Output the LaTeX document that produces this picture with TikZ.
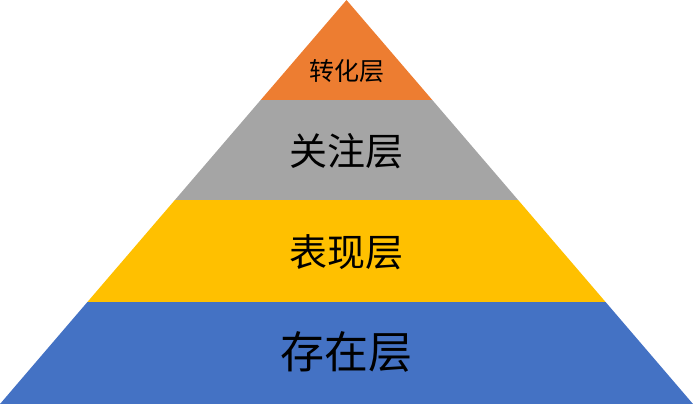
\documentclass[tikz,border=0pt]{standalone}
\usepackage{fontspec}
\newfontfamily\cjk{Noto Sans CJK SC}
\definecolor{lorange}{HTML}{ED7D31}
\definecolor{lgray}{HTML}{A5A5A5}
\definecolor{lyellow}{HTML}{FFC000}
\definecolor{lblue}{HTML}{4472C4}
\tikzset{
  layertext/.style={text=black, inner sep=0pt, font=\cjk},
}
\begin{document}
\begin{tikzpicture}[x=1pt,y=-1pt]
\useasboundingbox (0,0) rectangle (693,404);
% apex (346.5,0), base 0..693 at y=404
\fill[lorange] (346.5,0) -- (260.7,100) -- (432.3,100) -- cycle;
\fill[lgray] (260.7,100) -- (432.3,100) -- (518.1,200) -- (174.9,200) -- cycle;
\fill[lyellow] (174.9,200) -- (518.1,200) -- (605.6,302) -- (87.4,302) -- cycle;
\fill[lblue] (87.4,302) -- (605.6,302) -- (693,404) -- (0,404) -- cycle;
\node[layertext, font=\cjk\fontsize{25}{25}\selectfont] (l4) at (346.5,71) {转化层};
\node[layertext, font=\cjk\fontsize{38}{38}\selectfont] (l3) at (346.5,151) {关注层};
\node[layertext, font=\cjk\fontsize{38}{38}\selectfont] (l2) at (346.5,252) {表现层};
\node[layertext, font=\cjk\fontsize{44}{44}\selectfont] (l1) at (346.5,352) {存在层};
\end{tikzpicture}
\end{document}
